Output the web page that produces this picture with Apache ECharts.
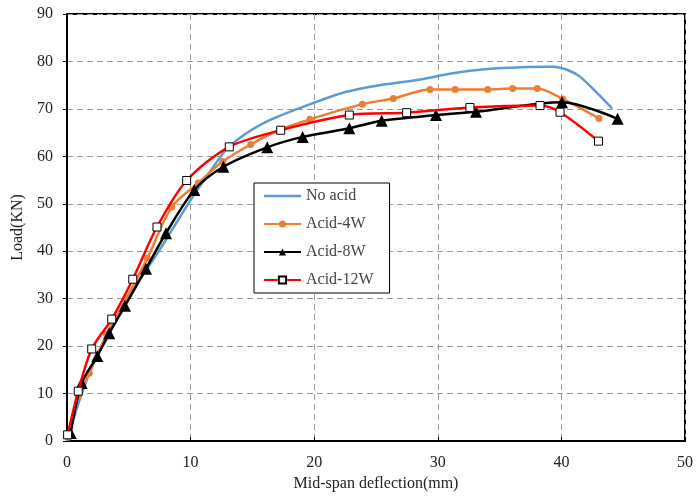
<!DOCTYPE html>
<html>
<head>
<meta charset="utf-8">
<script src="https://cdn.jsdelivr.net/npm/echarts@6/dist/echarts.min.js"></script>
<style>html,body{margin:0;padding:0;background:#fff;}#c{width:696px;height:497px;}</style>
</head>
<body>
<div id="c"></div>
<script>
const seriesNames = ["No acid", "Acid-4W", "Acid-8W", "Acid-12W"];
const xTicks = [0, 10, 20, 30, 40, 50];
const yTicks = [0, 10, 20, 30, 40, 50, 60, 70, 80, 90];

const noAcidX = [0, 1, 2, 3.6, 5.5, 7.5, 10, 11.5, 13.1, 15.9, 19.9, 22.6, 25.3, 28.6, 31.2, 34, 36.7, 39.3, 40.4, 41.5, 42.9, 44.1];
const noAcidY = [0, 8.5, 15.5, 24.1, 32.5, 40.3, 50.8, 56.5, 62, 67, 71.2, 73.6, 75, 76.2, 77.5, 78.4, 78.8, 78.9, 78.3, 76.8, 73.3, 70.1];

const acid4X = [0.1, 0.9, 1.8, 3.2, 4.8, 6.5, 8.47, 10.62, 12.6, 14.86, 17.23, 19.66, 23.9, 26.4, 29.37, 31.4, 34.04, 36.06, 38.05, 40.1, 43.04];
const acid4Y = [0.8, 9.5, 14.3, 22.5, 30, 38.5, 49.3, 54.4, 58.9, 62.5, 65.6, 67.8, 71.0, 72.2, 74.1, 74.1, 74.1, 74.3, 74.3, 72.1, 68.0];

const acid8X = [0.3, 1.19, 2.45, 3.42, 4.69, 6.39, 8.01, 10.3, 12.65, 16.2, 19.07, 22.84, 25.46, 29.85, 33.09, 40.05, 44.55];
const acid8Y = [1.7, 12.2, 17.9, 22.7, 28.5, 36.3, 43.8, 52.9, 57.8, 61.9, 64.1, 65.9, 67.5, 68.7, 69.4, 71.4, 67.9];

const acid12X = [0.05, 0.91, 2.0, 3.62, 5.32, 7.28, 9.68, 13.13, 17.29, 22.84, 27.48, 32.6, 38.27, 39.89, 43.0];
const acid12Y = [1.3, 10.5, 19.4, 25.7, 34.1, 45.1, 54.9, 62.0, 65.5, 68.7, 69.2, 70.3, 70.7, 69.3, 63.2];

function pairs(xs, ys) { return xs.map((x, i) => [x, ys[i]]); }

const font = '"Liberation Serif", "Times New Roman", serif';
const chart = echarts.init(document.getElementById('c'), null, {renderer: 'canvas'});
chart.setOption({
  animation: false,
  backgroundColor: '#fff',
  grid: {left: 67, top: 14, right: 11, bottom: 56, show: true, borderColor: '#000', borderWidth: 2, backgroundColor: 'transparent'},
  legend: {
    orient: 'vertical', left: 254, top: 183,
    borderColor: '#000', borderWidth: 1, backgroundColor: '#fff',
    padding: [5, 16, 5, 9], itemGap: 12, itemWidth: 37, itemHeight: 9,
    textStyle: {fontFamily: font, fontSize: 16, color: '#444'},
    data: [
      {name: seriesNames[0], icon: 'path://M0,0 L37,0 L37,2.5 L0,2.5 Z'},
      seriesNames[1], seriesNames[2], seriesNames[3]
    ]
  },
  xAxis: {
    type: 'value', min: 0, max: 50, interval: 10,
    name: 'Mid-span deflection(mm)', nameLocation: 'middle', nameGap: 31,
    nameTextStyle: {fontFamily: font, fontSize: 16, color: '#222'},
    axisLine: {show: true, lineStyle: {color: '#000', width: 2}},
    axisTick: {show: true, inside: true, length: 4, lineStyle: {color: '#000'}},
    axisLabel: {fontFamily: font, fontSize: 16, color: '#222', margin: 14,
      formatter: v => xTicks.includes(v) ? String(v) : ''},
    splitLine: {show: true, lineStyle: {color: '#999', type: [6, 4], width: 1}}
  },
  yAxis: {
    type: 'value', min: 0, max: 90, interval: 10,
    name: 'Load(KN)', nameLocation: 'middle', nameGap: 39, nameRotate: 90,
    nameTextStyle: {fontFamily: font, fontSize: 16, color: '#222'},
    axisLine: {show: true, lineStyle: {color: '#000', width: 2}},
    axisTick: {show: true, inside: false, length: 4, lineStyle: {color: '#000'}},
    axisLabel: {fontFamily: font, fontSize: 16, color: '#222', margin: 14,
      formatter: v => yTicks.includes(v) ? String(v) : ''},
    splitLine: {show: true, lineStyle: {color: '#999', type: [6, 4], width: 1}}
  },
  series: [
    {name: seriesNames[0], type: 'line', smooth: 0.3, showSymbol: false, symbol: 'none',
     data: pairs(noAcidX, noAcidY), itemStyle: {color: '#5B9BD5'}, lineStyle: {color: '#5B9BD5', width: 2.5}, z: 2},
    {name: seriesNames[1], type: 'line', smooth: 0.3, symbol: 'circle', symbolSize: 7,
     data: pairs(acid4X, acid4Y), itemStyle: {color: '#ED7D31'}, lineStyle: {color: '#ED7D31', width: 2.5}, z: 3},
    {name: seriesNames[2], type: 'line', smooth: 0.3, symbol: 'triangle', symbolSize: 12,
     data: pairs(acid8X, acid8Y), itemStyle: {color: '#000'}, lineStyle: {color: '#000', width: 2.5}, z: 4},
    {name: seriesNames[3], type: 'line', smooth: 0.3, symbol: 'rect', symbolSize: 8,
     data: pairs(acid12X, acid12Y), itemStyle: {color: '#fff', borderColor: '#000', borderWidth: 1},
     lineStyle: {color: '#FF0000', width: 2.5}, z: 5}
  ]
});
</script>
</body>
</html>
